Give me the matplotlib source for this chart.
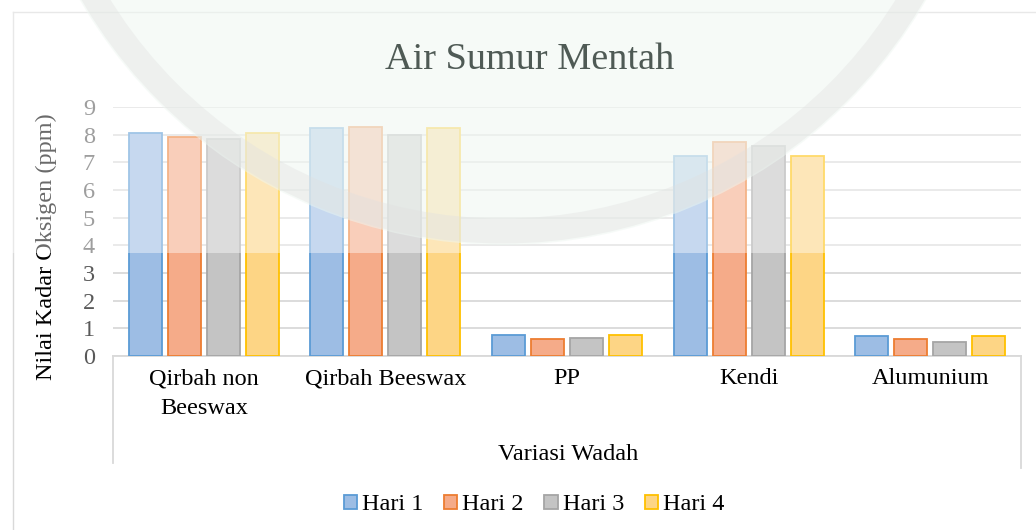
import numpy as np
import matplotlib.pyplot as plt
from matplotlib.patches import Patch, Rectangle, Ellipse
from matplotlib.lines import Line2D

# ------------------------------------------------ DATE --------------------------------------------------------------

categorii = ['Qirbah non\nBeeswax', 'Qirbah Beeswax', 'PP', 'Kendi', 'Alumunium']
serii = ['Hari 1', 'Hari 2', 'Hari 3', 'Hari 4']

hari_1 = [8.05, 8.24, 0.76, 7.24, 0.72]
hari_2 = [7.91, 8.29, 0.63, 7.73, 0.60]
hari_3 = [7.84, 7.99, 0.66, 7.58, 0.51]
hari_4 = [8.05, 8.24, 0.76, 7.24, 0.72]

y_ticks = [0, 1, 2, 3, 4, 5, 6, 7, 8, 9]

# culori (umplere si contur) pentru fiecare serie
culori_fill = ['#9dbde4', '#f5ab89', '#c4c4c4', '#fdd585']
culori_edge = ['#5b9bd5', '#ed7d31', '#a5a5a5', '#ffc000']

plt.rcParams['font.family'] = ['Liberation Serif', 'DejaVu Serif']

W, H = 1036, 530
FS = 17.5


def fx(px):
    return px / W


def fy(py):
    return 1 - py / H


fig = plt.figure(figsize=(W / 100, H / 100), dpi=100)

# chenarul graficului
gri = '#d9d9d9'
fig.add_artist(Line2D([fx(13), fx(13)], [0, fy(12)], color=gri, lw=1))
fig.add_artist(Line2D([fx(13), 1], [fy(12), fy(12)], color=gri, lw=1))

# zona de desenare
x0, x1, y0, y1 = 113, 1021, 356, 107
ax = fig.add_axes([fx(x0), fy(y0), fx(x1) - fx(x0), fy(y1) - fy(y0)])

x = np.arange(len(categorii))
latime = 0.182
pas = 0.215

for j, vals in enumerate([hari_1, hari_2, hari_3, hari_4]):
    ax.bar(x + (j - 1.5) * pas, vals, latime, color=culori_fill[j],
           edgecolor=culori_edge[j], linewidth=1.3, zorder=3)

ax.set_xlim(-0.5, 4.5)
ax.set_ylim(0, 9)
ax.set_yticks(y_ticks)
ax.set_yticklabels([str(v) for v in y_ticks], color='#595959', fontsize=FS)
ax.yaxis.grid(True, color=gri, lw=1.3, zorder=0)
ax.tick_params(axis='y', length=0, pad=13)
ax.set_xticks(x)
ax.set_xticklabels(categorii, fontsize=FS, color='black', linespacing=1.5, va='top')
ax.tick_params(axis='x', length=0, pad=9)

for s in ['top', 'right', 'left']:
    ax.spines[s].set_visible(False)
ax.spines['bottom'].set_color(gri)
ax.spines['bottom'].set_linewidth(1.3)

# liniile verticale ale axei cu categorii
h_ax = y0 - y1
ax.add_line(Line2D([0, 0], [0, -(463 - y0) / h_ax], transform=ax.transAxes, color=gri, lw=1.3, clip_on=False))
ax.add_line(Line2D([1, 1], [0, -(468 - y0) / h_ax], transform=ax.transAxes, color=gri, lw=1.3, clip_on=False))

ax.set_ylabel('Nilai Kadar Oksigen (ppm)', fontsize=FS, color='black')
ax.yaxis.set_label_coords((57 - x0) / (x1 - x0), (y0 - 247) / h_ax)

fig.text(fx(568), fy(455), 'Variasi Wadah', fontsize=FS, ha='center', va='center')

# titlul
fig.text(fx(530), fy(60), 'Air Sumur Mentah', fontsize=27.5, color='#4f5a55', ha='center', va='center', zorder=10)

# legenda
handles = [Patch(facecolor=culori_fill[j], edgecolor=culori_edge[j], lw=1.3) for j in range(4)]
fig.legend(handles, serii, loc='center', bbox_to_anchor=(fx(534), fy(505)), ncol=4, frameon=False,
           fontsize=FS, handlelength=0.55, handleheight=0.55, handletextpad=0.2, columnspacing=0.85)

# filigranul din imagine (cerc verde deschis, zona de sus mai deschisa)
R = 488
fig.add_artist(Ellipse((fx(503), fy(-243)), 2 * R / W, 2 * R / H, facecolor='#e2f1e7', edgecolor='none',
                       alpha=0.5, zorder=4))
fig.add_artist(Ellipse((fx(503), fy(-243)), 2 * (R - 14) / W, 2 * (R - 14) / H, facecolor='none',
                       edgecolor='#c8c8c8', lw=18, alpha=0.35, zorder=4))
fig.add_artist(Rectangle((0, fy(253)), 1, 253 / H, transform=fig.transFigure, facecolor='white',
                         alpha=0.42, zorder=5))

fig.savefig('out.png', dpi=100)
